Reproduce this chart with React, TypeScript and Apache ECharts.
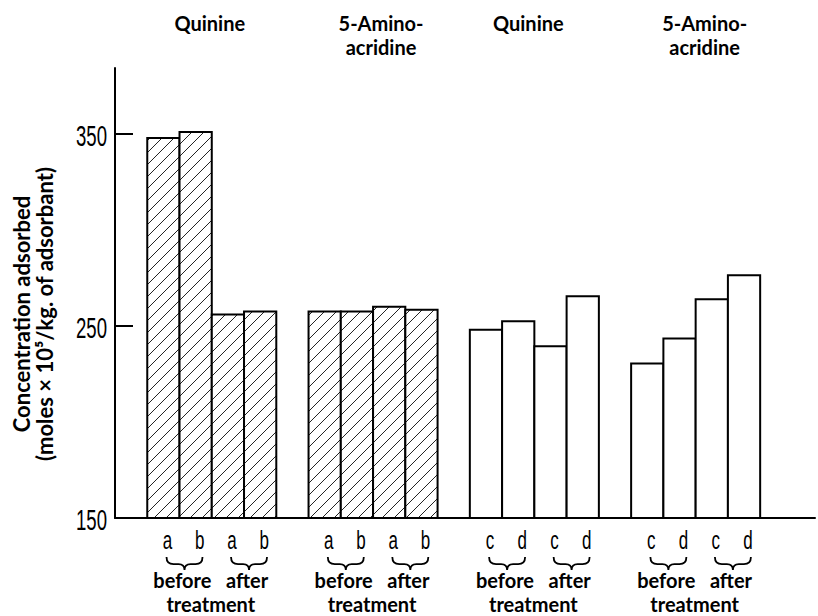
import React, { useEffect, useRef } from "react";
import * as echarts from "echarts";

// Adsorbed concentration (moles x 10^5 / kg of adsorbant) per bar
const quinineAB = [348, 351, 256, 257.5];
const aminoacridineAB = [257.5, 257.5, 260, 258.5];
const quinineCD = [248, 252.5, 239.5, 265.5];
const aminoacridineCD = [230.5, 243.5, 264, 276.5];

const groupValues = [quinineAB, aminoacridineAB, quinineCD, aminoacridineCD];
const groupHatched = [true, true, false, false];
const groupTitles = [["Quinine"], ["5-Amino-", "acridine"], ["Quinine"], ["5-Amino-", "acridine"]];
const groupLetters = [
  ["a", "b", "a", "b"],
  ["a", "b", "a", "b"],
  ["c", "d", "c", "d"],
  ["c", "d", "c", "d"],
];
const treatmentWords = ["before", "after"];
const treatmentCaption = "treatment";
const yTicks = [150, 250, 350];
const yTitle = ["Concentration adsorbed", "(moles \u00d7 10\u2075/kg. of adsorbant)"];

const Y_MIN = 150;
const Y_MAX = 384.4;
const X_MAX = 21.7;
const GROUP_STRIDE = 5; // four bars plus one empty slot
const TITLE_SHIFT = [-2, 8, -6, 9]; // horizontal nudge of each group heading, px

const LABEL_FONT = "Lato, 'Open Sans', sans-serif";
const NARROW_FONT = "'Liberation Sans', Arimo, sans-serif";

function groupStart(g: number) {
  return 1 + g * GROUP_STRIDE;
}

const barData: number[][] = [];
groupValues.forEach((vals, g) => {
  vals.forEach((v, j) => {
    barData.push([groupStart(g) + j, v, groupHatched[g] ? 1 : 0]);
  });
});

const groupData = groupValues.map((_, g) => [groupStart(g), Y_MIN, g]);
const tickData = yTicks.map((v) => [0, v]);

function renderBar(params: any, api: any) {
  const x0 = api.value(0);
  const v = api.value(1);
  const hatched = api.value(2) === 1;
  const pTop = api.coord([x0, v]);
  const pBot = api.coord([x0 + 1, Y_MIN]);
  const left = pTop[0];
  const top = pTop[1];
  const right = pBot[0];
  const bottom = pBot[1];
  const children: any[] = [
    {
      type: "rect",
      shape: { x: left, y: top, width: right - left, height: bottom - top },
      style: { fill: "#fff", stroke: "none" },
    },
  ];
  if (hatched) {
    const step = 12;
    const cStart = Math.ceil((left + top) / step) * step;
    for (let c = cStart; c < right + bottom; c += step) {
      const xa = Math.max(left, c - bottom);
      const xb = Math.min(right, c - top);
      if (xb - xa > 0.5) {
        children.push({
          type: "line",
          shape: { x1: xa, y1: c - xa, x2: xb, y2: c - xb },
          style: { stroke: "#222", lineWidth: 1 },
        });
      }
    }
  }
  children.push({
    type: "rect",
    shape: { x: left, y: top, width: right - left, height: bottom - top },
    style: { fill: "none", stroke: "#000", lineWidth: 2 },
  });
  return { type: "group", children };
}

function bracePath(cx: number, top: number, halfW: number, h: number) {
  const L = cx - halfW;
  const R = cx + halfW;
  const m = top + h * 0.55;
  const b = top + h;
  return (
    `M${L},${top} Q${L},${m} ${L + 7},${m} L${cx - 6},${m} Q${cx},${m} ${cx},${b} ` +
    `Q${cx},${m} ${cx + 6},${m} L${R - 7},${m} Q${R},${m} ${R},${top}`
  );
}

// Condensed lettering: a regular face squeezed horizontally about its anchor
function narrowText(text: string, x: number, y: number, size: number, align: string, squeeze: number) {
  return {
    type: "text",
    x,
    y,
    scaleX: squeeze,
    style: {
      text,
      x: 0,
      y: 0,
      fill: "#000",
      font: `${size}px ${NARROW_FONT}`,
      align,
      verticalAlign: "middle",
    },
  };
}

function boldText(text: string, x: number, y: number, size: number, lineHeight: number, vAlign: string) {
  return {
    type: "text",
    style: {
      text,
      x,
      y,
      fill: "#000",
      font: `bold ${size}px ${LABEL_FONT}`,
      lineHeight,
      align: "center",
      verticalAlign: vAlign,
    },
  };
}

function renderTickLabel(params: any, api: any) {
  const p = api.coord([0, api.value(1)]);
  return narrowText(String(api.value(1)), p[0] - 8, p[1] + 1, 30, "right", 0.62);
}

function renderGroup(params: any, api: any) {
  const start = api.value(0);
  const g = api.value(2);
  const px = (slot: number) => api.coord([slot, Y_MIN])[0];
  const children: any[] = [];
  const centre = px(start + 2);

  children.push(boldText(groupTitles[g].join("\n"), centre + TITLE_SHIFT[g], 11, 20, 24, "top"));

  groupLetters[g].forEach((letter, j) => {
    children.push(narrowText(letter, px(start + j + 0.5) + 4, 541, 25, "center", 0.68));
  });

  treatmentWords.forEach((word, k) => {
    const cx = px(start + 2 * k + 1) + 5;
    children.push({
      type: "path",
      shape: { pathData: bracePath(cx, 557, 18, 13) },
      style: { fill: "none", stroke: "#000", lineWidth: 1.8 },
    });
  });

  // "before   after" over "treatment" as one two-line block
  const caption = `${treatmentWords[0]}   ${treatmentWords[1]}\n${treatmentCaption}`;
  children.push(boldText(caption, centre - 1, 616, 20, 24, "bottom"));

  return { type: "group", children };
}

export default function App() {
  const ref = useRef<HTMLDivElement>(null);

  useEffect(() => {
    if (!ref.current) return;
    const chart = echarts.init(ref.current, undefined, { renderer: "svg" });
    chart.setOption({
      animation: false,
      backgroundColor: "#fff",
      grid: { left: 115, right: 3, top: 68, bottom: 98, containLabel: false },
      xAxis: {
        type: "value",
        min: 0,
        max: X_MAX,
        axisLine: { show: true, lineStyle: { color: "#000", width: 2 } },
        axisTick: { show: false },
        axisLabel: { show: false },
        splitLine: { show: false },
      },
      yAxis: {
        type: "value",
        min: Y_MIN,
        max: Y_MAX,
        axisLine: { show: true, lineStyle: { color: "#000", width: 2 } },
        axisTick: {
          show: true,
          inside: true,
          length: 18,
          customValues: yTicks,
          lineStyle: { color: "#000", width: 2 },
        },
        axisLabel: { show: false },
        splitLine: { show: false },
      },
      graphic: yTitle.map((line, i) => ({
        type: "text",
        x: 21 + i * 23,
        y: 314,
        rotation: Math.PI / 2,
        style: {
          text: line,
          fill: "#000",
          font: `bold 22px ${LABEL_FONT}`,
          lineHeight: 22,
          align: "center",
          verticalAlign: "middle",
        },
      })),
      series: [
        {
          type: "custom",
          coordinateSystem: "cartesian2d",
          renderItem: renderBar,
          data: barData,
          silent: true,
        },
        {
          type: "custom",
          coordinateSystem: "cartesian2d",
          renderItem: renderGroup,
          data: groupData,
          silent: true,
          clip: false,
        },
        {
          type: "custom",
          coordinateSystem: "cartesian2d",
          renderItem: renderTickLabel,
          data: tickData,
          silent: true,
          clip: false,
        },
      ],
    });
    return () => chart.dispose();
  }, []);

  return (
    <div
      ref={ref}
      style={{ position: "fixed", left: 0, top: 0, width: 818, height: 616, background: "#fff" }}
    />
  );
}
